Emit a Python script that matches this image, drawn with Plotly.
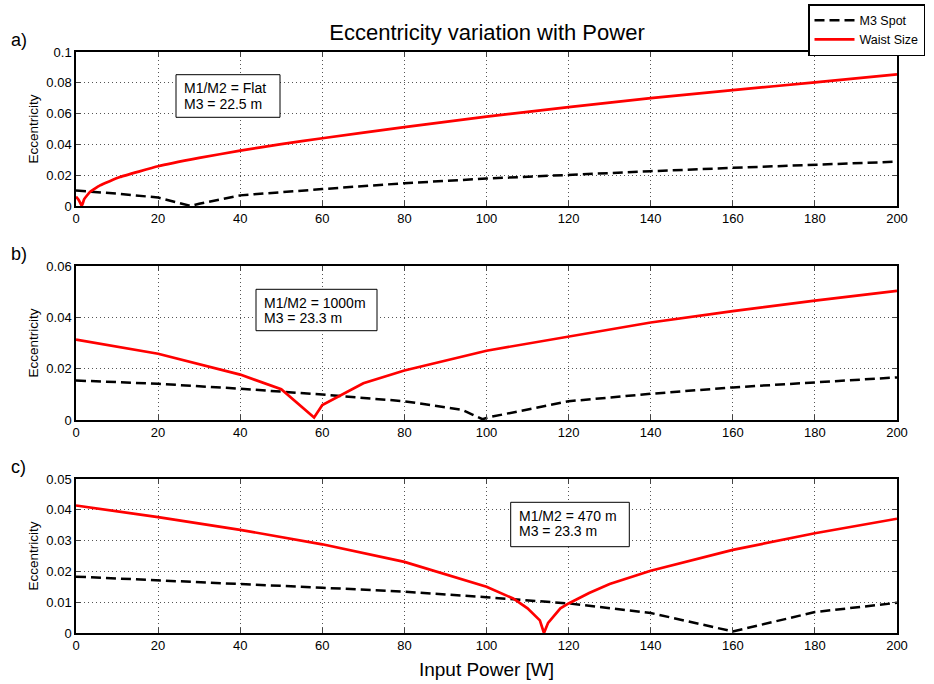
import plotly.graph_objects as go

# ---- data ----
a_red_x = [0, 0.5, 1, 1.4, 2, 3.4, 5.85, 10.7, 20, 30, 40, 50, 60, 80, 100, 120, 140, 160, 180, 200]
a_red_y = [0.006, 0.0045, 0.0022, 0.0, 0.0045, 0.0091, 0.0134, 0.0188, 0.0258, 0.0312, 0.036, 0.0402, 0.044, 0.0512, 0.058, 0.0642, 0.0700, 0.0752, 0.0803, 0.0855]
a_blk_x = [0, 10, 20, 28, 30, 40, 60, 80, 100, 120, 140, 160, 180, 200]
a_blk_y = [0.0100, 0.0080, 0.0055, 0.0, 0.0015, 0.0069, 0.0110, 0.0148, 0.0178, 0.0203, 0.0226, 0.0248, 0.0268, 0.0288]

b_red_x = [0, 20, 40, 50, 58, 59.5, 60, 70, 80, 100, 120, 140, 160, 180, 200]
b_red_y = [0.0313, 0.0258, 0.0177, 0.0120, 0.0010, 0.0050, 0.0058, 0.0143, 0.0193, 0.0270, 0.0326, 0.0380, 0.0424, 0.0465, 0.0503]
b_blk_x = [0, 20, 40, 60, 80, 94, 99, 101, 120, 140, 160, 180, 200]
b_blk_y = [0.0154, 0.0141, 0.0122, 0.0099, 0.0073, 0.0040, 0.0003, 0.0012, 0.0073, 0.0102, 0.0127, 0.0147, 0.0166]

c_red_x = [0, 20, 40, 60, 80, 100, 106.5, 110, 113, 114, 115, 118, 120, 125, 130, 140, 160, 180, 200]
c_red_y = [0.0414, 0.0376, 0.0335, 0.0288, 0.0231, 0.0150, 0.0112, 0.0080, 0.0041, 0.0, 0.0033, 0.0080, 0.0096, 0.0130, 0.0159, 0.0202, 0.0270, 0.0324, 0.0371]
c_blk_x = [0, 20, 40, 60, 80, 100, 120, 140, 160, 180, 200]
c_blk_y = [0.0183, 0.0172, 0.0159, 0.0147, 0.0134, 0.0116, 0.0096, 0.0065, 0.0005, 0.0068, 0.0098]

panel_labels = ["a)", "b)", "c)"]
box_line1 = ["M1/M2 = Flat", "M1/M2 = 1000m", "M1/M2 = 470 m"]
box_line2 = ["M3 = 22.5 m", "M3 = 23.3 m", "M3 = 23.3 m"]
y_max = [0.1, 0.06, 0.05]
y_dtick = [0.02, 0.02, 0.01]

FONT = "Liberation Sans, Arial, Helvetica, sans-serif"
W, H = 934, 684
ML, MR, MT, MB = 76, 37, 52, 51
PW = W - ML - MR
PH = H - MT - MB
# panel pixel extents (top, bottom)
panel_px = [(52, 206), (266, 420), (479, 633)]
domains = [[(H - MB - b) / PH, (H - MB - t) / PH] for t, b in panel_px]

fig = go.Figure()
panels = [(a_red_x, a_red_y, a_blk_x, a_blk_y), (b_red_x, b_red_y, b_blk_x, b_blk_y), (c_red_x, c_red_y, c_blk_x, c_blk_y)]
for i, (rx, ry, bx, by) in enumerate(panels):
    xa = "x" if i == 0 else f"x{i+1}"
    ya = "y" if i == 0 else f"y{i+1}"
    fig.add_trace(go.Scatter(x=bx, y=by, mode="lines", name="M3 Spot",
                             line=dict(color="black", width=2.5, dash="10px,5px"),
                             xaxis=xa, yaxis=ya, showlegend=(i == 0)))
    red_line = dict(color="red", width=2.7)
    if i == 0:
        red_line.update(shape="spline", smoothing=0.3)
    fig.add_trace(go.Scatter(x=rx, y=ry, mode="lines", name="Waist Size",
                             line=red_line, xaxis=xa, yaxis=ya, showlegend=(i == 0)))

axis_common = dict(showline=True, linecolor="black", linewidth=1.5, mirror="ticks",
                   ticks="inside", ticklen=5, tickcolor="#444", showgrid=True,
                   gridcolor="#555", griddash="1px,3px", gridwidth=1, zeroline=False,
                   automargin=False,
                   tickfont=dict(size=13, color="black", family=FONT))
for i in range(3):
    sfx = "" if i == 0 else str(i + 1)
    fig.update_layout(**{
        f"xaxis{sfx}": dict(axis_common, domain=[0, 1], range=[0, 200], dtick=20,
                            anchor=f"y{sfx}",
                            title=dict(text="Input Power [W]", font=dict(size=19, family=FONT), standoff=10) if i == 2 else None),
        f"yaxis{sfx}": dict(axis_common, domain=domains[i], range=[0, y_max[i]], dtick=y_dtick[i],
                            anchor=f"x{sfx}",
                            title=dict(text="Eccentricity", font=dict(size=13.5, family=FONT), standoff=5)),
    })

# panel labels
for i in range(3):
    fig.add_annotation(text=panel_labels[i], xref="paper", yref="paper", x=-(ML - 9) / PW,
                       y=domains[i][1], xanchor="left", yanchor="bottom", showarrow=False,
                       font=dict(size=18, family=FONT, color="black"))

# info boxes (pixel extents: left, right, top, bottom)
box_px = [(176, 280, 74.7, 117.3), (256, 377, 289.3, 330.7), (510.7, 629.3, 502.3, 546.7)]
for i, (l, r, t, b) in enumerate(box_px):
    sfx = "" if i == 0 else str(i + 1)
    ptop, pbot = panel_px[i]
    def px2x(p):
        return (p - ML) / PW * 200
    def py2y(p):
        return (pbot - p) / (pbot - ptop) * y_max[i]
    fig.add_shape(type="rect", xref=f"x{sfx}", yref=f"y{sfx}",
                  x0=px2x(l), x1=px2x(r), y0=py2y(b), y1=py2y(t),
                  line=dict(color="black", width=1), fillcolor="white", layer="above")
    for txt, off in ((box_line1[i], 13.5), (box_line2[i], 29)):
        fig.add_annotation(text=txt, xref=f"x{sfx}", yref=f"y{sfx}", x=px2x(l + 6),
                           y=py2y(t + off), xanchor="left", yanchor="middle", showarrow=False,
                           font=dict(size=14, family=FONT, color="black"))

fig.update_layout(
    width=W, height=H,
    margin=dict(l=ML, r=MR, t=MT, b=MB, autoexpand=False),
    paper_bgcolor="white", plot_bgcolor="white",
    font=dict(family=FONT, color="black"),
    title=dict(text="Eccentricity variation with Power", x=487 / W, xref="container", xanchor="center",
               y=1 - 32 / H, yanchor="middle", font=dict(size=22, family=FONT, color="black")),
    legend=dict(x=808 / W, y=1 - 4 / H, xref="container", yref="container",
                xanchor="left", yanchor="top", bordercolor="black",
                borderwidth=1.5, bgcolor="white", font=dict(size=12.5, family=FONT),
                tracegroupgap=0, itemwidth=40),
)

fig.write_html("out.html", config={"displayModeBar": False},
               post_script="document.body.style.margin='0';")
